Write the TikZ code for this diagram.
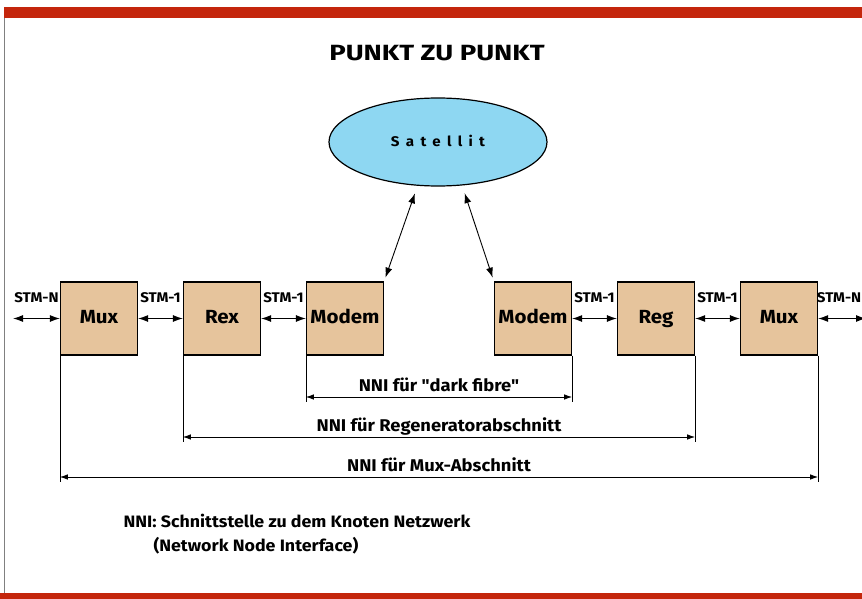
\documentclass[tikz,border=0pt]{standalone}
\usepackage{fontspec}
\setmainfont{Fira Sans}[FakeStretch=1.08, Ligatures=TeXOff]
\usetikzlibrary{positioning, shapes.geometric, arrows.meta}

\definecolor{barred}{HTML}{C4260C}
\definecolor{boxtan}{HTML}{E6C49C}
\definecolor{satblue}{HTML}{8ED7F2}

\tikzset{
    box/.style={draw, line width=1.2pt, fill=boxtan, minimum width=77pt, minimum height=73pt,
        inner sep=0pt, text height=1em, text depth=0pt,
        font=\bfseries\fontsize{19}{22}\selectfont},
    stm/.style={font=\bfseries\fontsize{14}{16}\selectfont, anchor=base, yshift=16.5pt},
    link/.style={<->, >={Latex[length=10pt,width=7pt]}, line width=1.1pt},
    dim/.style={<->, >={Latex[length=8pt,width=5.5pt]}, line width=0.8pt},
    guide/.style={line width=0.6pt},
    dimlabel/.style={font=\bfseries\fontsize{17}{20}\selectfont, anchor=base, yshift=5.5pt},
    notetext/.style={anchor=base west, font=\bfseries\fontsize{16.5}{20}\selectfont}
}

\begin{document}
\begin{tikzpicture}[x=1pt, y=1pt, node distance=123pt, on grid]
    \useasboundingbox (0,0) rectangle (862,-599);
    % frame
    \fill[barred] (4,-7) rectangle (862,-18);
    \fill[barred] (0,-593) rectangle (862,-599);
    \draw[gray, line width=0.8pt] (4,-18) -- (4,-593);

    \node[anchor=base, font=\bfseries\fontsize{22}{26}\selectfont\addfontfeature{FakeStretch=1.25}] (title) at (437,-61)
        {PUNKT ZU PUNKT};

    \node[ellipse, draw, line width=1.2pt, fill=satblue, minimum width=218pt, minimum height=88pt,
        text height=0.95em, text depth=0pt] (sat) at (438,-142)
        {\bfseries\fontsize{14}{17}\selectfont\addfontfeature{LetterSpace=45}Satellit};

    \node[box] (mux1) at (99,-318.5) {Mux};
    \node[box] (rex) [right=of mux1] {Rex};
    \node[box] (modem1) [right=of rex] {Modem};
    \node[box] (modem2) [right=188pt of modem1] {Modem};
    \node[box] (reg) [right=of modem2] {Reg};
    \node[box] (mux2) [right=of reg] {Mux};

    \coordinate (inl) at (13,-318.5);
    \coordinate (outr) at (866,-318.5);

    \path[link]
    (inl) edge node[stm] {STM-N} (mux1)
    (mux1) edge node[stm] {STM-1} (rex)
    (rex) edge node[stm] {STM-1} (modem1)
    (modem2) edge node[stm] {STM-1} (reg)
    (reg) edge node[stm] {STM-1} (mux2)
    (mux2) edge node[stm, xshift=-3pt] {STM-N} (outr);

    \draw[link, line width=0.9pt, shorten <=4pt, shorten >=8pt] (modem1.north east) -- (sat.245);
    \draw[link, line width=0.9pt, shorten <=4pt, shorten >=8pt] (modem2.north west) -- (sat.299);

    % dimension lines
    \coordinate (lvl1) at (0,-402);
    \coordinate (lvl2) at (0,-442);
    \coordinate (lvl3) at (0,-482);
    \draw[guide] (modem1.south west) -- (modem1.south west |- lvl1) coordinate (d1l);
    \draw[guide] (modem2.south east) -- (modem2.south east |- lvl1) coordinate (d1r);
    \draw[guide] (rex.south west) -- (rex.south west |- lvl2) coordinate (d2l);
    \draw[guide] (reg.south east) -- (reg.south east |- lvl2) coordinate (d2r);
    \draw[guide] (mux1.south west) -- (mux1.south west |- lvl3) coordinate (d3l);
    \draw[guide] (mux2.south east) -- (mux2.south east |- lvl3) coordinate (d3r);

    \draw[dim] ([yshift=5pt]d1l) -- ([yshift=5pt]d1r) node[midway, dimlabel] {NNI für "dark fibre"};
    \draw[dim] ([yshift=5pt]d2l) -- ([yshift=5pt]d2r) node[midway, dimlabel] {NNI für Regeneratorabschnitt};
    \draw[dim] ([yshift=5pt]d3l) -- ([yshift=5pt]d3r) node[midway, dimlabel] {NNI für Mux-Abschnitt};

    % note
    \node[notetext] (note1) at (120,-527) {NNI: Schnittstelle zu dem Knoten Netzwerk};
    \node[notetext] (note2) at (150,-551) {(Network Node Interface)};
\end{tikzpicture}
\end{document}
